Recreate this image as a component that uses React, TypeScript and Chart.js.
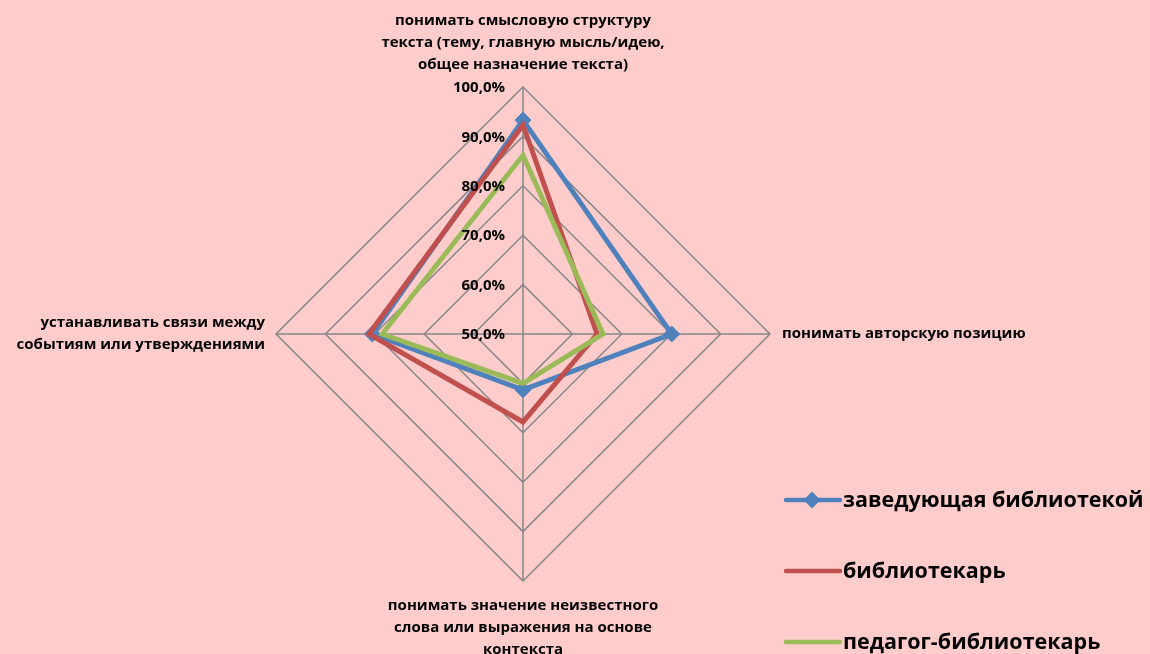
import React, { useEffect, useRef } from "react";
import { Chart, registerables } from "chart.js";

Chart.register(...registerables);

// ---- data ----
const categories: string[][] = [
  ["понимать смысловую структуру", "текста (тему, главную мысль/идею,", "общее назначение текста)"],
  ["понимать авторскую позицию"],
  ["понимать значение неизвестного", "слова или выражения на основе", "контекста"],
  ["устанавливать связи между", "событиям или утверждениями"],
];
const seriesNames = ["заведующая библиотекой", "библиотекарь", "педагог-библиотекарь"];
const headLibrarian = [93.3, 80.1, 61.3, 80.5];
const librarian = [92.3, 65.0, 67.8, 81.2];
const teacherLibrarian = [86.2, 66.2, 60.0, 78.5];
const tickValues = [50, 60, 70, 80, 90, 100];
const seriesColors = ["#4F81BD", "#C0504D", "#9BBB59"];

const FONT = "'Open Sans', 'Noto Sans', sans-serif";
const LABEL_SIZE = 15;
const LABEL_PADS = [11, 12, 14, 11];
const BG = "#FFCCCC";
const CANVAS_W = 1150;
const CANVAS_H = 663; // bottom label runs past the visible 654px, as in the original

const fmt = (v: number) => v.toFixed(1).replace(".", ",") + "%";

const tickLabelPlugin = {
  id: "tickLabels",
  afterDatasetsDraw(chart: any) {
    const s = chart.scales.r;
    const ctx = chart.ctx;
    ctx.save();
    ctx.font = `bold ${LABEL_SIZE}px ${FONT}`;
    ctx.fillStyle = "#000";
    ctx.textAlign = "right";
    ctx.textBaseline = "middle";
    tickValues.forEach((v) => {
      const d = s.getDistanceFromCenterForValue(v);
      ctx.fillText(fmt(v), s.xCenter - 18, s.yCenter - d + 1);
    });
    ctx.restore();
  },
};

const legendPlugin = {
  id: "customLegend",
  afterDraw(chart: any) {
    const ctx = chart.ctx;
    ctx.save();
    chart.data.datasets.forEach((ds: any, i: number) => {
      const y = 500 + i * 71;
      ctx.strokeStyle = ds.borderColor;
      ctx.lineWidth = 4.5;
      ctx.lineCap = "round";
      ctx.beginPath();
      ctx.moveTo(786, y);
      ctx.lineTo(840, y);
      ctx.stroke();
      if (ds.pointRadius > 0) {
        const r = 8.5;
        ctx.fillStyle = ds.borderColor;
        ctx.beginPath();
        ctx.moveTo(812, y - r);
        ctx.lineTo(812 + r, y);
        ctx.lineTo(812, y + r);
        ctx.lineTo(812 - r, y);
        ctx.closePath();
        ctx.fill();
      }
      ctx.fillStyle = "#000";
      ctx.font = `bold 21.5px ${FONT}`;
      ctx.textAlign = "left";
      ctx.textBaseline = "middle";
      ctx.fillText(ds.label, 843, y + 1);
    });
    ctx.restore();
  },
};

export default function App() {
  const ref = useRef<HTMLCanvasElement | null>(null);

  useEffect(() => {
    document.body.style.margin = "0";
    document.body.style.background = BG;
    document.body.style.overflow = "hidden";
    const canvas = ref.current!;

    // measure horizontal labels to balance the radar's centre
    const mctx = document.createElement("canvas").getContext("2d")!;
    mctx.font = `bold ${LABEL_SIZE}px ${FONT}`;
    const maxW = (lines: string[]) => Math.max(...lines.map((l) => mctx.measureText(l).width));
    const wL = maxW(categories[3]);
    const wR = maxW(categories[1]);
    const padRight = Math.round(102 + wL - wR - 1);

    const chart = new Chart(canvas, {
      type: "radar",
      data: {
        labels: categories,
        datasets: [
          {
            label: seriesNames[0],
            data: headLibrarian,
            borderColor: seriesColors[0],
            backgroundColor: seriesColors[0],
            pointBackgroundColor: seriesColors[0],
            pointBorderColor: seriesColors[0],
            pointStyle: "rectRot",
            pointRadius: 8,
            pointBorderWidth: 1,
            borderWidth: 5,
            borderJoinStyle: "miter",
            fill: false,
            order: 3,
          },
          {
            label: seriesNames[1],
            data: librarian,
            borderColor: seriesColors[1],
            backgroundColor: seriesColors[1],
            pointRadius: 0,
            borderWidth: 5,
            borderJoinStyle: "miter",
            fill: false,
            order: 2,
          },
          {
            label: seriesNames[2],
            data: teacherLibrarian,
            borderColor: seriesColors[2],
            backgroundColor: seriesColors[2],
            pointRadius: 0,
            borderWidth: 5,
            borderJoinStyle: "miter",
            fill: false,
            order: 1,
          },
        ],
      } as any,
      options: {
        responsive: false,
        maintainAspectRatio: false,
        animation: false,
        layout: { padding: { top: 9, bottom: 0, left: 0, right: padRight } },
        plugins: {
          legend: { display: false },
          tooltip: { enabled: false },
        },
        elements: { line: { tension: 0 } },
        scales: {
          r: {
            min: 50,
            max: 100,
            startAngle: 0,
            ticks: { display: false, stepSize: 10 },
            grid: { color: "#878787", lineWidth: 1.5, circular: false },
            angleLines: { color: "#878787", lineWidth: 1.5 },
            pointLabels: {
              color: "#000",
              font: { family: FONT, size: LABEL_SIZE, weight: "bold", lineHeight: 22 / LABEL_SIZE },
              padding: (c: any) => LABEL_PADS[c.index],
            },
          },
        },
      } as any,
      plugins: [tickLabelPlugin, legendPlugin],
    });
    return () => chart.destroy();
  }, []);

  return (
    <div style={{ width: CANVAS_W, height: 654, overflow: "hidden", background: BG }}>
      <canvas ref={ref} width={CANVAS_W} height={CANVAS_H} style={{ display: "block" }} />
    </div>
  );
}
